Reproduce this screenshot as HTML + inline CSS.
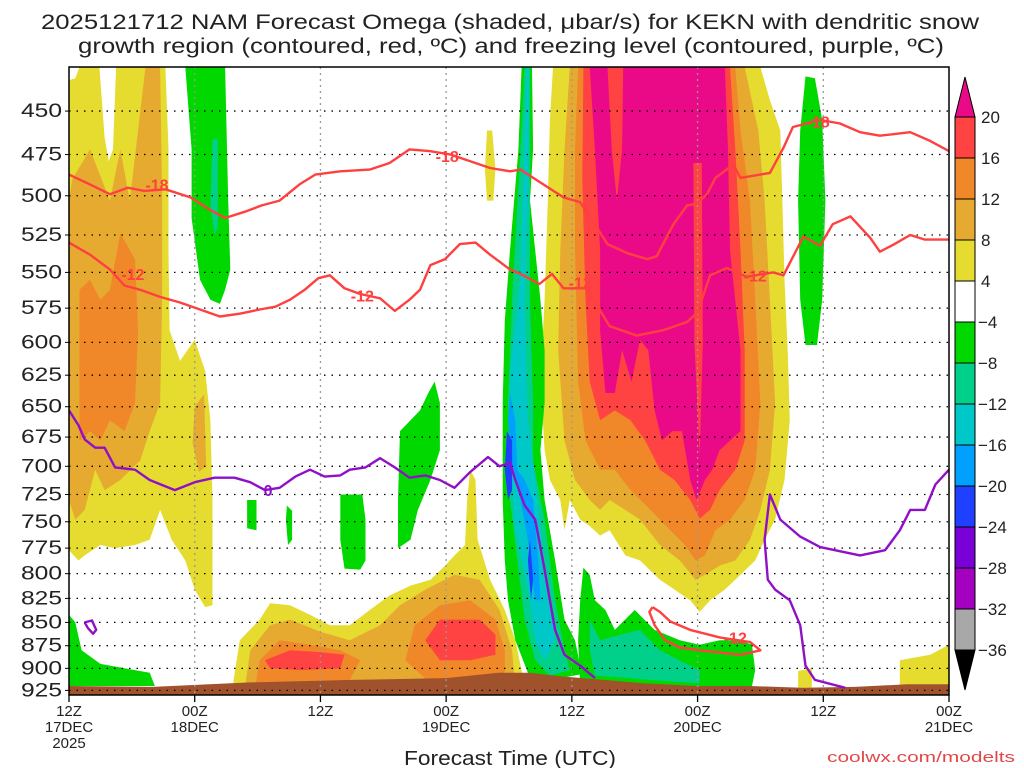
<!DOCTYPE html>
<html><head><meta charset="utf-8">
<style>
html,body{margin:0;padding:0;background:#fff;}
svg{display:block;font-family:"Liberation Sans",sans-serif;}
</style></head>
<body>
<svg id="chart" width="1024" height="768" viewBox="0 0 1024 768" xmlns="http://www.w3.org/2000/svg">
<text x="510" y="29" text-anchor="middle" font-size="21" fill="#222" textLength="938" lengthAdjust="spacingAndGlyphs">2025121712 NAM Forecast Omega (shaded, μbar/s) for KEKN with dendritic snow</text>
<text x="511" y="53" text-anchor="middle" font-size="21" fill="#222" textLength="866" lengthAdjust="spacingAndGlyphs">growth region (contoured, red, ºC) and freezing level (contoured, purple, ºC)</text>
<g id="shade"></g>
<g id="grid"></g>
<g id="contours"></g>
<rect x="69" y="67" width="880" height="628" fill="none" stroke="#000" stroke-width="1.5"/>
<g id="axes"></g>
<g id="cbar"></g>
<text x="510" y="765" text-anchor="middle" font-size="20" fill="#222" textLength="212" lengthAdjust="spacingAndGlyphs">Forecast Time (UTC)</text>
<text x="1015" y="762" text-anchor="end" font-size="15" fill="#e04848" textLength="188" lengthAdjust="spacingAndGlyphs">coolwx.com/modelts</text>
</svg>
<script>
// ---- data (hour since 12Z 17DEC, pressure hPa) ----
const pressureTicks = [450,475,500,525,550,575,600,625,650,675,700,725,750,775,800,825,850,875,900,925];
const timeTicks = [0,12,24,36,48,60,72,84];
const timeLabels = [["12Z","17DEC","2025"],["00Z","18DEC"],["12Z"],["00Z","19DEC"],["12Z"],["00Z","20DEC"],["12Z"],["00Z","21DEC"]];
const cbarLevels = ["20","16","12","8","4","-4","-8","-12","-16","-20","-24","-28","-32","-36"];
const cbarColors = ["#ff4242","#f0882a","#e6aa30","#e6dc30","#ffffff","#00d800","#00d08a","#00c8c8","#00a0ff","#2040ff","#7a00d8","#a400c0","#a8a8a8"];

const yellowRegions = [
 [[46.2,426],[66.0,426],[66.9,444],[67.9,461],[68.1,503],[68.3,555],[68.6,606],[68.8,661],[68.3,712],[67.4,748],[66.4,767],[65.5,787],[64.1,801],[62.6,816],[61.2,827],[60.2,839],[59.3,827],[57.8,816],[56.4,806],[54.5,787],[53.1,782],[51.6,758],[50.7,763],[49.7,754],[48.8,748],[47.8,730],[47.3,758],[46.9,730],[45.9,712],[45.4,686],[45.0,630],[45.4,569],[45.7,503],[45.9,455]],
 [[0,426],[9.2,426],[9.5,472],[9.5,535],[9.6,591],[10.6,614],[12.0,598],[13.0,622],[13.5,661],[13.7,730],[13.7,806],[13.7,832],[13.0,834],[12.0,816],[11.1,787],[9.8,767],[8.7,739],[7.7,767],[6.3,772],[4.4,775],[3.0,772],[1.5,782],[0.9,787],[0,777]],
 [[15.6,922],[16.3,869],[18.2,847],[19.2,830],[21.1,832],[23.0,842],[24.9,853],[26.8,853],[28.7,837],[30.6,822],[32.6,812],[34.5,806],[35.9,792],[36.8,782],[37.8,772],[38.0,730],[38.3,703],[38.8,712],[39.0,767],[40.2,806],[41.6,837],[42.6,869],[43.2,902],[43.5,922]],
 [[39.9,461],[40.4,461],[40.7,484],[40.5,503],[39.9,503],[39.7,484]],
 [[79.3,891],[82.2,885],[84,874],[84,922],[79.3,922]],
 [[69.6,903],[70.9,900],[70.9,922],[69.6,922]]
];
const whiteGapRegions = [
 [[2.9,426],[4.5,426],[4.2,472],[3.8,479],[3.4,465]],
 [[0,426],[1.0,426],[0.6,432],[0,433]]
];
const lightOrangeRegions = [
 [[47.8,426],[64.5,426],[65.8,461],[66.4,503],[66.9,569],[67.4,647],[66.9,703],[66.0,739],[65.0,767],[63.6,787],[62.1,792],[60.7,801],[59.8,806],[58.3,787],[56.4,772],[54.5,748],[53.1,739],[51.6,730],[50.7,739],[49.7,730],[48.3,712],[47.3,678],[46.7,606],[46.9,535],[47.3,472]],
 [[0,503],[0.3,490],[2.0,472],[3.9,503],[4.9,472],[5.8,503],[7.3,426],[8.7,426],[8.9,503],[8.9,569],[8.7,647],[7.7,670],[6.8,695],[4.9,712],[3.4,721],[2.5,703],[1.5,739],[0.6,748],[0,730]],
 [[12.0,650],[12.9,640],[13.1,700],[12.4,705],[11.8,680]],
 [[16.8,922],[17.3,880],[19.2,853],[21.1,847],[24.0,860],[26.8,869],[29.7,853],[31.6,832],[34.0,816],[36.8,801],[39.2,806],[41.1,837],[42.3,880],[42.6,922]]
];
const orangeRegions = [
 [[48.6,426],[63.6,426],[64.1,461],[65.0,503],[65.5,569],[66.0,647],[65.5,703],[64.5,730],[63.1,748],[61.7,758],[60.7,782],[59.8,787],[58.8,772],[57.4,758],[55.5,739],[53.6,721],[52.1,703],[50.7,703],[49.3,678],[48.6,630],[48.3,535],[48.3,472]],
 [[1.0,562],[2.0,555],[3.0,569],[3.9,562],[4.9,524],[6.3,541],[6.6,591],[6.3,647],[5.3,670],[3.9,661],[3.0,678],[2.0,670],[1.0,678]],
 [[17.8,919],[18.2,891],[20.1,869],[23.0,874],[25.9,880],[27.8,891],[26.8,913],[22.1,919]],
 [[32.1,891],[33.0,853],[35.4,832],[38.3,827],[40.7,847],[41.6,880],[41.6,913],[34.5,917]]
];
const redRegions = [
 [[49.1,426],[63.1,426],[63.6,472],[64.1,535],[64.5,606],[64.5,678],[63.6,703],[62.1,721],[61.2,739],[60.2,747],[59.3,730],[57.8,712],[56.4,703],[55.0,678],[53.6,661],[52.1,653],[50.7,661],[49.7,630],[49.3,569],[49.0,490]],
 [[18.7,891],[21.1,880],[24.0,882],[26.3,885],[25.9,900],[22.1,902],[19.2,900]],
 [[34.0,869],[35.4,847],[37.3,847],[39.2,847],[40.7,863],[40.7,885],[38.3,891],[35.4,891]]
];
const pinkRegions = [
 [[49.7,426],[62.6,426],[62.9,472],[63.1,535],[64.1,606],[64.1,670],[63.1,678],[62.1,686],[61.4,703],[60.7,712],[59.9,730],[59.3,712],[58.5,670],[57.6,670],[56.6,678],[55.9,653],[55.3,606],[54.5,598],[53.7,630],[52.8,606],[52.1,639],[51.2,639],[50.7,591],[50.7,535],[50.2,472]]
];
const redStripeRegions = [
 [[51.4,426],[52.9,426],[52.8,472],[52.3,503],[51.8,472]],
 [[59.6,480],[60.4,480],[60.5,600],[60.2,690],[59.7,600]]
];
const greenRegions = [
 [[43.2,426],[44.2,426],[44.3,472],[44.0,503],[44.5,535],[45.0,569],[45.4,606],[45.4,647],[45.0,686],[45.4,730],[46.4,787],[47.3,847],[48.3,869],[48.8,897],[49.7,905],[46.9,911],[44.0,911],[42.6,869],[41.9,827],[41.6,787],[41.4,730],[41.4,647],[41.6,584],[42.1,535],[42.9,472]],
 [[49.1,794],[49.7,801],[50.2,827],[51.2,837],[52.1,858],[54.0,837],[55.9,858],[58.3,869],[60.2,874],[62.1,869],[64.1,869],[65.2,874],[65.5,902],[65.2,920],[48.8,920],[48.6,869],[48.8,827]],
 [[11.1,426],[14.9,426],[15.2,503],[15.4,548],[14.9,562],[14.4,572],[13.5,569],[12.5,555],[11.7,514],[11.7,472]],
 [[70.3,431],[71.2,432],[71.9,455],[72.2,503],[71.9,569],[71.4,602],[70.3,602],[69.8,569],[69.6,503],[69.8,461]],
 [[17.0,730],[17.9,730],[17.9,758],[17.0,756]],
 [[20.8,735],[21.3,740],[21.3,767],[20.9,772],[20.7,748]],
 [[25.9,725],[28.0,725],[28.3,748],[28.3,787],[27.8,796],[26.3,795],[25.9,767]],
 [[31.6,670],[32.6,661],[33.5,653],[34.3,639],[34.9,630],[35.4,647],[35.4,686],[34.5,712],[33.3,739],[32.6,767],[31.4,775],[31.4,730]],
 [[0,842],[0.6,850],[1.2,880],[3.0,895],[7.7,905],[8.2,920],[0,920]]
];
const tealRegions = [
 [[43.5,426],[44.0,426],[44.0,503],[44.0,569],[44.3,647],[44.3,695],[45.4,748],[46.4,827],[47.3,880],[47.8,902],[45.9,908],[44.5,891],[43.5,847],[42.9,796],[42.1,730],[41.9,647],[42.3,569],[43.1,472]],
 [[49.7,847],[50.7,869],[52.6,863],[54.5,858],[56.4,880],[59.3,897],[60.2,902],[60.2,917],[55.5,913],[50.2,908],[49.7,880]],
 [[13.7,466],[14.2,466],[14.2,520],[13.9,525],[13.5,505]]
];
const cyanRegions = [
 [[43.7,426],[43.9,426],[43.8,503],[43.5,569],[43.8,661],[44.5,712],[45.4,787],[46.4,869],[45.4,891],[44.5,869],[43.8,816],[42.6,758],[42.1,686],[42.1,622],[43.1,555]]
];
const blueRegions = [
 [[42.1,639],[42.6,661],[42.8,703],[43.5,712],[44.3,730],[44.8,787],[45.0,827],[44.5,827],[43.8,767],[43.1,730],[42.3,703],[41.9,661]]
];
const darkBlueRegions = [
 [[41.8,670],[42.3,678],[42.3,721],[41.9,730],[41.6,703]],
 [[44.0,767],[44.3,806],[44.1,827],[43.8,787]]
];
const surfacePressure = [[0,920],[8,921],[17,916],[27,913],[36,911],[41,905],[44,905],[47,909],[51,913],[55,917],[60,920],[65,920],[70,922],[75,921],[80,918],[84,918]];

const dgzMinus18 = [[0,487],[2.0,493],[3.9,499],[5.6,495],[7.2,497],[9.2,496],[11.6,501],[13.5,509],[14.9,514],[16.8,510],[18.4,506],[20.1,503],[22.0,493],[23.5,487],[25.9,485],[28.7,484],[30.6,480],[32.5,472],[34.4,473],[36.4,475],[38.3,479],[40.2,483],[42.1,485],[43.1,484],[47.2,501],[48.8,504],[51.4,531],[53.3,537],[55.2,541],[56.1,539],[57.7,518],[59.0,506],[59.9,505],[60.9,499],[61.7,489],[63.4,481],[64.1,489],[66.9,486],[68.2,471],[69.1,459],[71.7,455],[73.6,457],[75.5,462],[77.4,464],[80.3,462],[82.2,467],[84,473]];
const dgzMinus12 = [[0,530],[2.0,538],[3.9,548],[5.3,559],[6.8,562],[8.7,567],[10.6,571],[12.5,576],[14.4,581],[16.3,579],[18.2,576],[19.7,574],[21.1,569],[22.5,562],[23.8,554],[24.9,552],[26.3,561],[27.8,565],[29.7,568],[31.1,577],[32.5,569],[33.5,562],[34.5,545],[35.9,541],[37.3,531],[38.8,530],[40.2,538],[42.1,548],[43.1,551],[44.9,558],[46.1,551],[47.2,561],[49.4,561],[51.6,588],[54.2,595],[56.7,591],[59.0,585],[60.0,578],[61.2,552],[62.8,547],[64.7,553],[67.2,550],[68.2,552],[70.1,526],[71.7,532],[72.9,518],[74.6,513],[76.5,527],[77.4,536],[78.8,531],[80.3,525],[81.7,528],[84,528]];
const dgzMinus12Loop = [[55.7,834],[56.4,839],[57.4,849],[59.3,858],[62.1,866],[65.0,871],[66.0,880],[64.1,885],[60.2,880],[58.3,877],[56.9,869],[55.9,853],[55.4,839],[55.7,834]];
const freezingLeft = [[0,653],[0.9,665],[1.5,677],[2.5,684],[3.4,684],[4.4,701],[6.3,703],[7.7,712],[10.1,721],[12.0,714],[13.9,710],[15.8,710],[17.3,714],[18.7,721],[20.1,719],[21.6,709],[23.0,703],[24.4,709],[25.9,708],[26.8,703],[28.3,701],[29.7,693],[31.1,701],[32.5,710],[34.0,708],[35.4,712],[36.8,719],[38.3,705],[40.0,692],[41.1,700],[42.1,697],[42.6,712],[43.5,735],[44.5,748],[45.4,796],[45.9,827],[46.4,858],[47.3,885],[48.8,897],[50.2,911]];
const freezingRight = [[74.1,922],[71.2,913],[70.3,897],[69.8,853],[68.8,827],[67.4,816],[66.7,806],[66.4,767],[66.9,725],[67.9,748],[69.8,764],[71.7,774],[75.5,782],[77.9,777],[79.3,758],[80.3,739],[81.7,739],[82.7,716],[84,703]];
const freezingLoop = [[1.5,850],[2.2,848],[2.6,858],[2.3,862],[1.8,856],[1.5,850]];
const contourLabels = [["-18",8.4,493,"#ff4040"],["-18",36.1,476,"#ff4040"],["-18",71.5,456,"#ff4040"],["-12",6.1,551,"#ff4040"],["-12",28.0,566,"#ff4040"],["-12",48.8,557,"#ff4040"],["-12",65.5,552,"#ff4040"],["-12",63.6,866,"#ff4040"],["0",19.0,721,"#9010c8"]];

// ---- axes ----
const X0=69,X1=949,Y0=67,PTOP=426,YSCALE=804;
function X(h){return X0+h*(X1-X0)/84;}
function Y(p){return Y0+YSCALE*Math.log(p/PTOP);}
const NS="http://www.w3.org/2000/svg";
function mk(tag,attrs,parent){const e=document.createElementNS(NS,tag);for(const k in attrs)e.setAttribute(k,attrs[k]);parent.appendChild(e);return e;}
function pts(arr){return arr.map(d=>X(d[0]).toFixed(1)+","+Y(d[1]).toFixed(1)).join(" ");}

const shade=document.getElementById("shade");
const clip=mk("clipPath",{id:"plotclip"},document.getElementById("chart"));
mk("rect",{x:X0,y:Y0,width:X1-X0,height:628},clip);
shade.setAttribute("clip-path","url(#plotclip)");
function drawRegions(list,color,name){
  list.forEach(r=>{
    const el=mk("polygon",{points:pts(r),fill:color},shade);
    
    
  });
}
drawRegions(yellowRegions,"#e6dc30","omega-4-8");
drawRegions(whiteGapRegions,"#ffffff","omega-near-zero");
drawRegions(lightOrangeRegions,"#e6aa30","omega-8-12");
drawRegions(orangeRegions,"#f0882a","omega-12-16");
drawRegions(redRegions,"#ff4242","omega-16-20");
drawRegions(pinkRegions,"#ea0a88","omega-over-20");
drawRegions(redStripeRegions,"#ff4242","omega-16-20");
drawRegions(greenRegions,"#00d800","omega-neg4-neg8");
drawRegions(tealRegions,"#00d08a","omega-neg8-neg12");
drawRegions(cyanRegions,"#00c8c8","omega-neg12-neg16");
drawRegions(blueRegions,"#00a0ff","omega-neg16-neg20");
drawRegions(darkBlueRegions,"#2040ff","omega-neg20-neg24");
const groundPts=surfacePressure.concat([[84,935],[0,935]]);
const ground=mk("polygon",{points:pts(groundPts),fill:"#a0522d"},shade);



// grid
const grid=document.getElementById("grid");
pressureTicks.forEach(p=>{
  const l=mk("line",{x1:X0,x2:X1,y1:Y(p),y2:Y(p),stroke:"#000","stroke-width":1.3,"stroke-dasharray":"1.5 6"},grid);
  
  
});
timeTicks.slice(1,-1).forEach(h=>{
  const l=mk("line",{x1:X(h),x2:X(h),y1:Y0,y2:695,stroke:"#999","stroke-width":1.3,"stroke-dasharray":"2 4"},grid);
  
  
});

// contours
const cg=document.getElementById("contours");
cg.setAttribute("clip-path","url(#plotclip)");
function line(arr,color,name){
  const l=mk("polyline",{points:pts(arr),fill:"none",stroke:color,"stroke-width":2.4,"stroke-linejoin":"round"},cg);
  
  
}
line(dgzMinus18,"#ff4040","contour-minus18");
line(dgzMinus12,"#ff4040","contour-minus12");
line(dgzMinus12Loop,"#ff4040","contour-minus12-loop");
line(freezingLeft,"#9010c8","freezing-level-left");
line(freezingRight,"#9010c8","freezing-level-right");
line(freezingLoop,"#9010c8","freezing-level-loop");
contourLabels.forEach(c=>{
  const t=mk("text",{x:X(c[1]),y:Y(c[2])+6,"text-anchor":"middle","font-size":16,"font-weight":"bold",fill:c[3]},cg);
  t.textContent=c[0];
  
  
});

// axes labels
const ax=document.getElementById("axes");
pressureTicks.forEach(p=>{
  const t=mk("text",{x:62,y:Y(p)+6,"text-anchor":"end","font-size":19,fill:"#222",textLength:41,lengthAdjust:"spacingAndGlyphs"},ax);
  t.textContent=p;
  
  
  mk("line",{x1:X0-4,x2:X0,y1:Y(p),y2:Y(p),stroke:"#000"},ax);
});
timeTicks.forEach((h,i)=>{
  mk("line",{x1:X(h),x2:X(h),y1:695,y2:702,stroke:"#000","stroke-width":1.3},ax);
  timeLabels[i].forEach((s,j)=>{
    const t=mk("text",{x:X(h),y:716+j*16,"text-anchor":"middle","font-size":15,fill:"#222"},ax);
    t.textContent=s;
    
    
  });
});

// colorbar
const cb=document.getElementById("cbar");
const CBX=955,CBW=20,CBT=117,CBH=41;
const up=mk("polygon",{points:`${CBX},${CBT} ${CBX+CBW},${CBT} ${CBX+CBW/2},${CBT-40}`,fill:"#ea0a88",stroke:"#000"},cb);


cbarColors.forEach((c,i)=>{
  const r=mk("rect",{x:CBX,y:CBT+i*CBH,width:CBW,height:CBH,fill:c,stroke:"#000"},cb);
  
  
});
const bot=CBT+cbarColors.length*CBH;
const dn=mk("polygon",{points:`${CBX},${bot} ${CBX+CBW},${bot} ${CBX+CBW/2},${bot+40}`,fill:"#000",stroke:"#000"},cb);


cbarLevels.forEach((s,i)=>{
  const t=mk("text",{x:s[0]==="-"?978:981,y:CBT+i*CBH+6,"font-size":17,fill:"#222"},cb);
  t.textContent=s.replace("-","−");
  
  
});
</script>
</body></html>
